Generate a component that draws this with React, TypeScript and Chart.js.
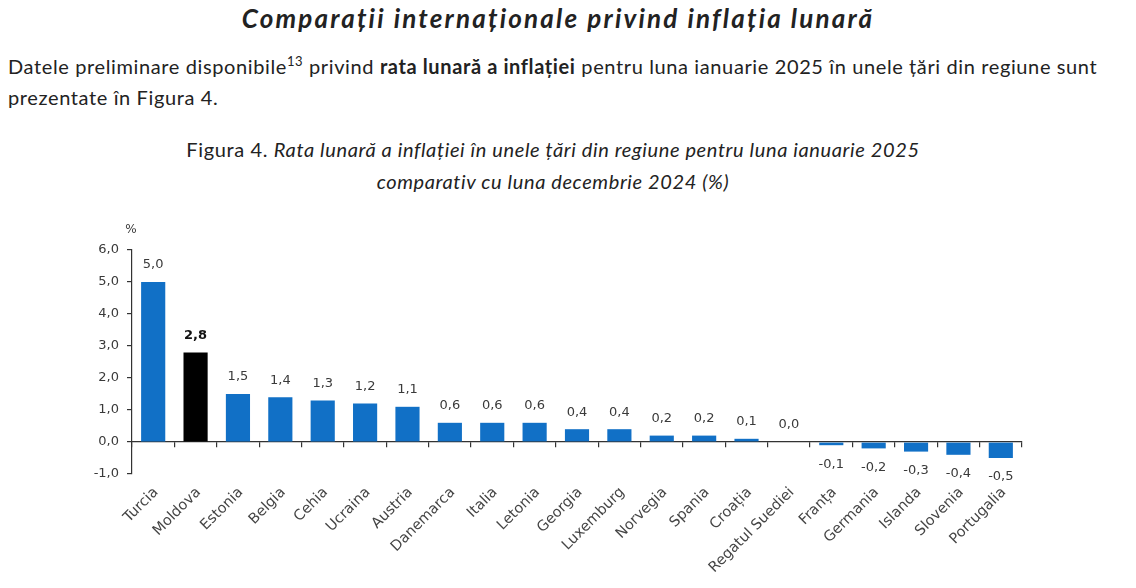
import React, { useEffect, useRef } from 'react';
import { Chart, registerables } from 'chart.js';

Chart.register(...registerables);

const categories = [
  'Turcia', 'Moldova', 'Estonia', 'Belgia', 'Cehia', 'Ucraina', 'Austria',
  'Danemarca', 'Italia', 'Letonia', 'Georgia', 'Luxemburg', 'Norvegia', 'Spania',
  'Croația', 'Regatul Suediei', 'Franța', 'Germania', 'Islanda', 'Slovenia', 'Portugalia',
];
const values = [
  5.0, 2.8, 1.5, 1.4, 1.3, 1.2, 1.1,
  0.6, 0.6, 0.6, 0.4, 0.4, 0.2, 0.2,
  0.1, 0.0, -0.1, -0.2, -0.3, -0.4, -0.5,
];
const highlight = 'Moldova';
const yMin = -1;
const yMax = 6;
const yStep = 1;

const BLUE = '#1170C6';
const BLACK = '#000000';
const AXIS = '#333333';
const TEXT = '#3a3a3a';
const LABEL = '#454545';
const CHART_FONT = '"DejaVu Sans", sans-serif';

const fmt = (v: number) => v.toFixed(1).replace('.', ',');

const valueLabels = {
  id: 'valueLabels',
  afterDatasetsDraw(chart: any) {
    const ctx = chart.ctx;
    const meta = chart.getDatasetMeta(0);
    meta.data.forEach((bar: any, i: number) => {
      const v = values[i];
      ctx.save();
      ctx.font = (categories[i] === highlight ? 'bold ' : '') + '13px ' + CHART_FONT;
      ctx.fillStyle = categories[i] === highlight ? '#111' : TEXT;
      ctx.textAlign = 'center';
      ctx.textBaseline = 'middle';
      const y = v >= 0 ? bar.y - 17 : bar.y + 19;
      ctx.fillText(fmt(v), bar.x, y);
      ctx.restore();
    });
    const yScale = chart.scales.y;
    ctx.save();
    ctx.font = '12px ' + CHART_FONT;
    ctx.fillStyle = TEXT;
    ctx.textAlign = 'center';
    ctx.textBaseline = 'middle';
    ctx.fillText('%', chart.chartArea.left - 1, yScale.getPixelForValue(yMax) - 20);
    ctx.restore();
  },
};

function BarChart() {
  const ref = useRef<HTMLCanvasElement>(null);
  useEffect(() => {
    if (!ref.current) return;
    const chart = new Chart(ref.current, {
      type: 'bar',
      data: {
        labels: categories,
        datasets: [
          {
            data: values,
            backgroundColor: categories.map((c) => (c === highlight ? BLACK : BLUE)),
            barPercentage: 0.57,
            categoryPercentage: 1,
            borderWidth: 0,
          },
        ],
      },
      options: {
        animation: false,
        responsive: false,
        maintainAspectRatio: false,
        layout: { padding: { left: 0, right: 114, top: 50, bottom: 0 } },
        plugins: {
          legend: { display: false },
          tooltip: { enabled: false },
          title: { display: false },
        },
        scales: {
          x: {
            type: 'category',
            position: { y: 0 } as any,
            grid: {
              offset: true,
              drawOnChartArea: false,
              drawTicks: true,
              tickLength: 5,
              color: AXIS,
              lineWidth: 1.2,
            },
            border: { display: true, color: AXIS, width: 1.2 },
            ticks: { display: false },
          },
          x2: {
            type: 'category',
            position: 'bottom',
            labels: categories,
            offset: true,
            grid: { display: false, drawTicks: false },
            border: { display: false },
            ticks: {
              autoSkip: false,
              minRotation: 45,
              maxRotation: 45,
              padding: 10,
              labelOffset: 3,
              color: LABEL,
              font: { family: CHART_FONT, size: 14.5 },
            },
            afterFit(scale: any) {
              scale.height = 114;
            },
          },
          y: {
            min: yMin,
            max: yMax,
            ticks: {
              stepSize: yStep,
              padding: 8,
              color: TEXT,
              font: { family: CHART_FONT, size: 13 },
              callback: (v: any) => fmt(Number(v)),
            },
            grid: {
              drawOnChartArea: false,
              drawTicks: true,
              tickLength: 5,
              color: AXIS,
              lineWidth: 1.2,
            },
            border: { display: true, color: AXIS, width: 1.2 },
            afterFit(scale: any) {
              scale.width = 132;
            },
          },
        },
      },
      plugins: [valueLabels],
    });
    return () => chart.destroy();
  }, []);
  return (
    <canvas
      ref={ref}
      width={1136}
      height={388}
      style={{ position: 'absolute', left: 0, top: 200, width: 1136, height: 388 }}
    />
  );
}

export default function App() {
  const textFont = 'Lato, "Open Sans", sans-serif';
  return (
    <div style={{ position: 'absolute', left: 0, top: 0, width: 1136, height: 588, overflow: 'hidden', background: '#fff', color: '#222' }}>
      <div
        style={{
          position: 'absolute', left: 0, top: 0, width: 1116, textAlign: 'center',
          font: `italic 700 26px/36px ${textFont}`, letterSpacing: '2.2px', color: '#222',
        }}
      >
        Comparații internaționale privind inflația lunară
      </div>
      <div
        style={{
          position: 'absolute', left: 8, top: 51, width: 1120, whiteSpace: 'nowrap',
          font: `400 20px/31px ${textFont}`, letterSpacing: '0.62px', color: '#222',
        }}
      >
        Datele preliminare disponibile<sup style={{ fontSize: 13, lineHeight: 0 }}>13</sup> privind{' '}
        <b>rata lunară a inflației</b> pentru luna ianuarie 2025 în unele țări din regiune sunt
        <br />
        prezentate în Figura 4.
      </div>
      <div
        style={{
          position: 'absolute', left: 0, top: 133, width: 1106, textAlign: 'center', whiteSpace: 'nowrap',
          font: `400 20px/32px ${textFont}`, letterSpacing: '0.62px', color: '#222',
        }}
      >
        Figura 4. <i>Rata lunară a inflației în unele țări din regiune pentru luna ianuarie 2025</i>
        <br />
        <i>comparativ cu luna decembrie 2024 (%)</i>
      </div>
      <BarChart />
    </div>
  );
}
